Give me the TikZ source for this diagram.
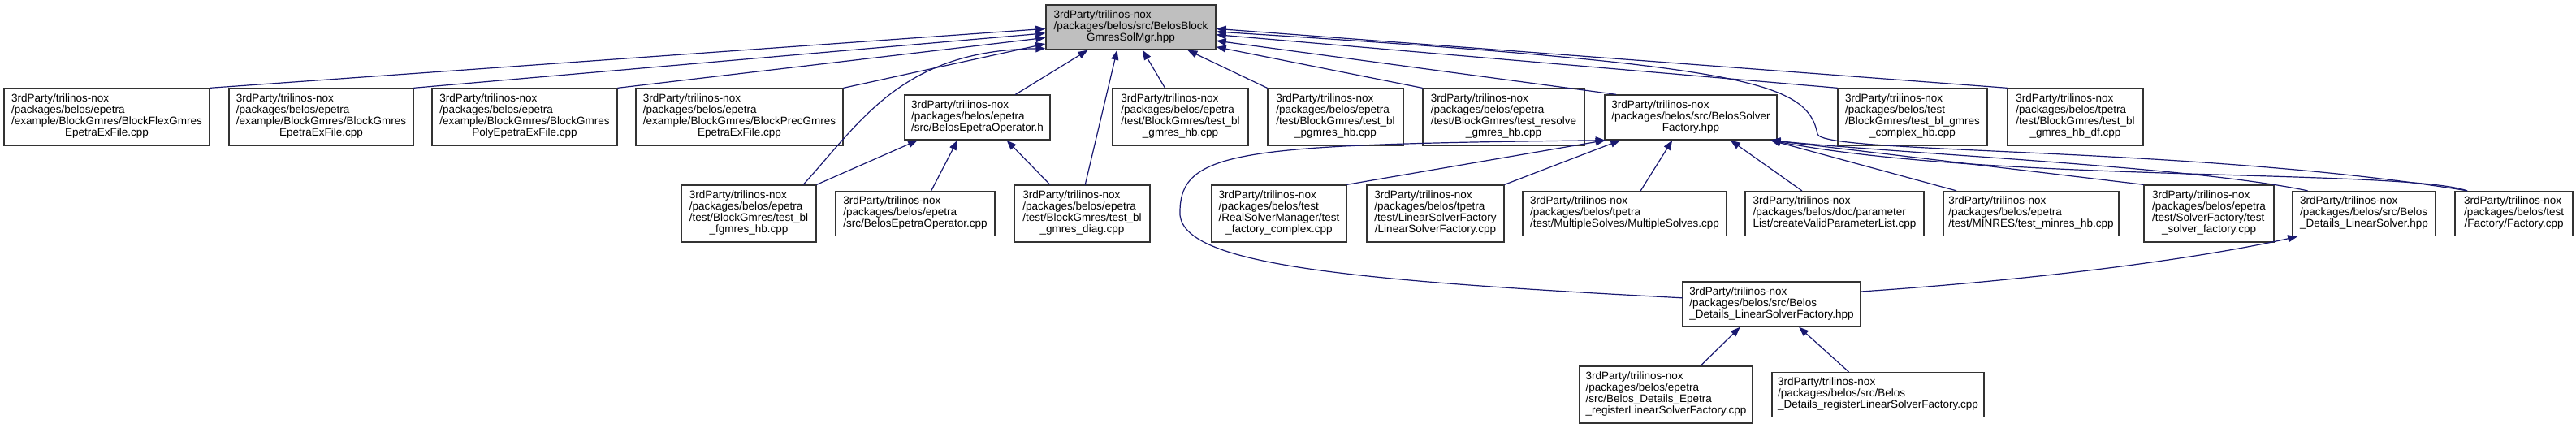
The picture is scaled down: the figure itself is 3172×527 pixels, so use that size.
\documentclass[tikz,border=0pt]{standalone}
\usepackage{fontspec}
\setmainfont{Liberation Sans}
\usepackage{tikz}
\usetikzlibrary{arrows.meta}
\usepackage{xcolor}
\definecolor{edgeblue}{HTML}{191970}
\definecolor{rootgray}{HTML}{BFBFBF}
\newcommand{\flines}[2]{\begin{tabular}{@{}l@{}}#1\\\multicolumn{1}{@{}c@{}}{#2}\end{tabular}}

\begin{document}
\begin{tikzpicture}[x=1pt,y=-1pt,>={Triangle[length=12pt,width=9pt]},font=\fontsize{13.5}{14}\selectfont,line cap=round,
  file/.style={draw=black!80,line width=1.4pt,fill=white,inner sep=0pt},
  box4/.style={file,minimum height=70},
  box3/.style={file,minimum height=55},
  dep/.style={->,edgeblue,line width=1.2pt}]
\useasboundingbox (0,0) rectangle (3172,527);
\node[box3,fill=rootgray,minimum width=209] (root) at (1392.5,33.5) {\flines{3rdParty/trilinos-nox\\/packages/belos/src/BelosBlock}{GmresSolMgr.hpp}};
\node[box4,minimum width=253] (flexEx) at (131.5,144) {\flines{3rdParty/trilinos-nox\\/packages/belos/epetra\\/example/BlockGmres/BlockFlexGmres}{EpetraExFile.cpp}};
\node[box4,minimum width=227] (blockEx) at (395.5,144) {\flines{3rdParty/trilinos-nox\\/packages/belos/epetra\\/example/BlockGmres/BlockGmres}{EpetraExFile.cpp}};
\node[box4,minimum width=228] (polyEx) at (646,144) {\flines{3rdParty/trilinos-nox\\/packages/belos/epetra\\/example/BlockGmres/BlockGmres}{PolyEpetraExFile.cpp}};
\node[box4,minimum width=255] (precEx) at (910.5,144) {\flines{3rdParty/trilinos-nox\\/packages/belos/epetra\\/example/BlockGmres/BlockPrecGmres}{EpetraExFile.cpp}};
\node[box3,minimum width=179] (epOpH) at (1203.5,144.5) {\flines{3rdParty/trilinos-nox\\/packages/belos/epetra}{/src/BelosEpetraOperator.h}};
\node[box4,minimum width=167] (tBlHb) at (1453.5,144) {\flines{3rdParty/trilinos-nox\\/packages/belos/epetra\\/test/BlockGmres/test\_bl}{\_gmres\_hb.cpp}};
\node[box4,minimum width=167] (tPgm) at (1644.5,144) {\flines{3rdParty/trilinos-nox\\/packages/belos/epetra\\/test/BlockGmres/test\_bl}{\_pgmres\_hb.cpp}};
\node[box4,minimum width=199] (tResolve) at (1851.5,144) {\flines{3rdParty/trilinos-nox\\/packages/belos/epetra\\/test/BlockGmres/test\_resolve}{\_gmres\_hb.cpp}};
\node[box3,minimum width=212] (solvFac) at (2082,144.5) {\flines{3rdParty/trilinos-nox\\/packages/belos/src/BelosSolver}{Factory.hpp}};
\node[box4,minimum width=184] (tCplx) at (2355,144) {\flines{3rdParty/trilinos-nox\\/packages/belos/test\\/BlockGmres/test\_bl\_gmres}{\_complex\_hb.cpp}};
\node[box4,minimum width=167] (tHbDf) at (2555.5,144) {\flines{3rdParty/trilinos-nox\\/packages/belos/tpetra\\/test/BlockGmres/test\_bl}{\_gmres\_hb\_df.cpp}};
\node[box4,minimum width=166] (tFgm) at (922,263) {\flines{3rdParty/trilinos-nox\\/packages/belos/epetra\\/test/BlockGmres/test\_bl}{\_fgmres\_hb.cpp}};
\node[box3,minimum width=196] (epOpCpp) at (1127,263) {\flines{3rdParty/trilinos-nox\\/packages/belos/epetra}{/src/BelosEpetraOperator.cpp}};
\node[box4,minimum width=167] (tDiag) at (1332.5,263) {\flines{3rdParty/trilinos-nox\\/packages/belos/epetra\\/test/BlockGmres/test\_bl}{\_gmres\_diag.cpp}};
\node[box4,minimum width=166] (tRealCplx) at (1575,263) {\flines{3rdParty/trilinos-nox\\/packages/belos/test\\/RealSolverManager/test}{\_factory\_complex.cpp}};
\node[box4,minimum width=169] (linSolvFac) at (1767.5,263) {\flines{3rdParty/trilinos-nox\\/packages/belos/tpetra\\/test/LinearSolverFactory}{/LinearSolverFactory.cpp}};
\node[box3,minimum width=251] (multiSolv) at (2000.5,263) {\flines{3rdParty/trilinos-nox\\/packages/belos/tpetra}{/test/MultipleSolves/MultipleSolves.cpp}};
\node[box3,minimum width=220] (validPL) at (2259,263) {\flines{3rdParty/trilinos-nox\\/packages/belos/doc/parameter}{List/createValidParameterList.cpp}};
\node[box3,minimum width=216] (tMinres) at (2501,263) {\flines{3rdParty/trilinos-nox\\/packages/belos/epetra}{/test/MINRES/test\_minres\_hb.cpp}};
\node[box4,minimum width=160] (tSolvFac) at (2720,263) {\flines{3rdParty/trilinos-nox\\/packages/belos/epetra\\/test/SolverFactory/test}{\_solver\_factory.cpp}};
\node[box3,minimum width=176] (detLinSolv) at (2911,263) {\flines{3rdParty/trilinos-nox\\/packages/belos/src/Belos}{\_Details\_LinearSolver.hpp}};
\node[box3,minimum width=145] (facCpp) at (3095.5,263) {\flines{3rdParty/trilinos-nox\\/packages/belos/test}{/Factory/Factory.cpp}};
\node[box3,minimum width=219] (detLinSolvFac) at (2181.5,374.5) {\flines{3rdParty/trilinos-nox\\/packages/belos/src/Belos}{\_Details\_LinearSolverFactory.hpp}};
\node[box4,minimum width=213] (epReg) at (2051.5,486) {\flines{3rdParty/trilinos-nox\\/packages/belos/epetra\\/src/Belos\_Details\_Epetra}{\_registerLinearSolverFactory.cpp}};
\node[box3,minimum width=261] (detReg) at (2312.5,486) {\flines{3rdParty/trilinos-nox\\/packages/belos/src/Belos}{\_Details\_registerLinearSolverFactory.cpp}};
\draw[dep] (flexEx.north east) -- (root.181.9);
\draw[dep] (blockEx.north east) -- (root.184.6);
\draw[dep] (polyEx.north east) -- (root.187.9);
\draw[dep] (precEx.north east) -- (root.191.6);
\draw[dep] (tFgm.28) .. controls (1060,150) and (1110,62) .. (root.194.2);
\draw[dep] (epOpH.31.1) -- (root.208.1);
\draw[dep] (tDiag.84.3) -- (root.239);
\draw[dep] (tBlHb.118) -- (root.297.8);
\draw[dep] (tPgm.north west) -- (root.338.7);
\draw[dep] (tResolve.north west) -- (root.347.3);
\draw[dep] (solvFac.163) -- (root.351);
\draw[dep] (tCplx.north west) -- (root.355.4);
\draw[dep] (tHbDf.north west) -- (root.359.2);
\draw[dep] (facCpp.154.8) .. controls (2700,180) and (2243,190) .. (2238,165) .. controls (2225,100) and (2150,80) .. (root.357.5);
\draw[dep] (tFgm.north east) -- (epOpH.201);
\draw[dep] (epOpCpp.55.4) -- (epOpH.229.5);
\draw[dep] (tDiag.138.5) -- (epOpH.322.2);
\draw[dep] (detLinSolvFac.176.6) .. controls (1650,345) and (1460,325) .. (1453,265) .. controls (1451,185) and (1520,178) .. (solvFac.195.5);
\draw[dep] (tRealCplx.north east) -- (solvFac.195.5);
\draw[dep] (linSolvFac.north east) -- (solvFac.198.8);
\draw[dep] (multiSolv.55.1) -- (solvFac.231.3);
\draw[dep] (validPL.145.7) -- (solvFac.330.7);
\draw[dep] (tMinres.163.1) -- (solvFac.344.6);
\draw[dep] (tSolvFac.north west) -- (solvFac.344.6);
\draw[dep] (detLinSolv.158.6) .. controls (2700,205) and (2350,190) .. (solvFac.344.6);
\draw[dep] (facCpp.154.8) .. controls (2960,208) and (2450,225) .. (solvFac.344.6);
\draw[dep] (detLinSolvFac.8.6) .. controls (2500,345) and (2700,320) .. (detLinSolv.199);
\draw[dep] (epReg.40.8) -- (detLinSolvFac.216.3);
\draw[dep] (detReg.142) -- (detLinSolvFac.320.6);
\end{tikzpicture}
\end{document}
